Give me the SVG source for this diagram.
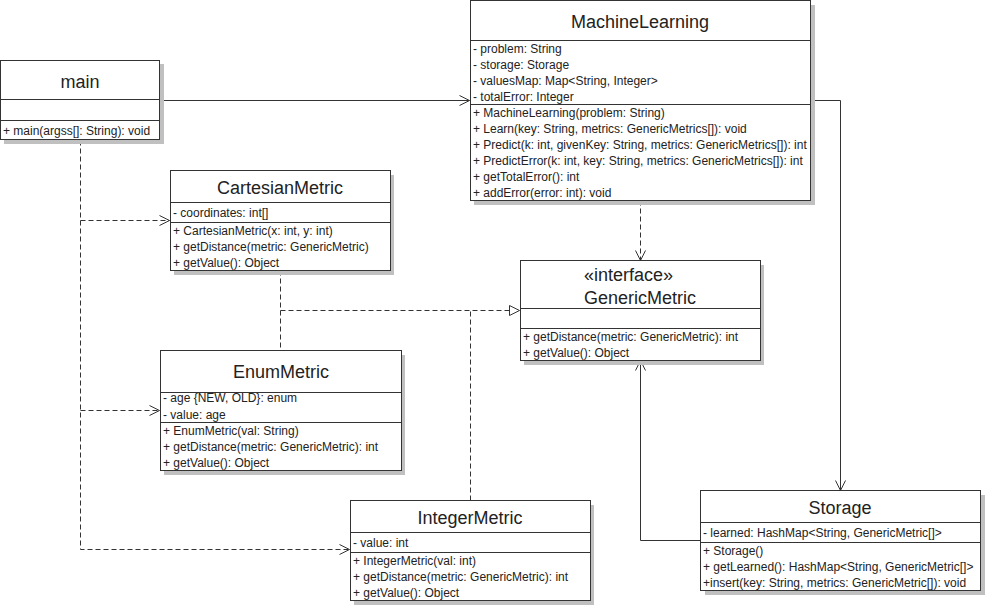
<svg xmlns="http://www.w3.org/2000/svg" width="985" height="605" viewBox="0 0 985 605">
<defs>
<style>
.shadow{fill:#c0c0c0;stroke:none}
.box{fill:#fff;stroke:#333;stroke-width:1}
.sep{stroke:#333;stroke-width:1}
.title{font-family:"Liberation Sans",Arial,sans-serif;font-size:18px;fill:#222;text-anchor:middle}
.titleL{font-family:"Liberation Sans",Arial,sans-serif;font-size:18px;fill:#222}
.m{font-family:"Liberation Sans",Arial,sans-serif;font-size:12px;fill:#222}
.solid{fill:none;stroke:#333;stroke-width:1}
.dash{fill:none;stroke:#333;stroke-width:1;stroke-dasharray:5,3}
</style>
<marker id="open" viewBox="0 0 12 12" refX="11" refY="6" markerWidth="12" markerHeight="12" markerUnits="userSpaceOnUse" orient="auto">
<path d="M1,1 L11,6 L1,11" fill="none" stroke="#333" stroke-width="1"/>
</marker>
<marker id="tri" viewBox="0 0 12 12" refX="11" refY="6" markerWidth="12" markerHeight="12" markerUnits="userSpaceOnUse" orient="auto">
<path d="M1,1 L11,6 L1,11 Z" fill="#fff" stroke="#333" stroke-width="1"/>
</marker>
</defs>
<rect width="985" height="605" fill="#fff"/>

<g id="connectors">
<polyline class="solid" points="159.5,100.5 469.5,100.5" marker-end="url(#open)"/>
<polyline class="solid" points="810.5,100.5 840.5,100.5 840.5,490.5" marker-end="url(#open)"/>
<polyline class="solid" points="700.5,540.5 640.5,540.5 640.5,360.5" marker-end="url(#open)"/>
<polyline class="dash" points="640.5,200.5 640.5,260.5" marker-end="url(#open)"/>
<polyline class="dash" points="80.5,140.5 80.5,549.5 349.5,549.5" marker-end="url(#open)"/>
<polyline class="dash" points="80.5,220.5 169.5,220.5" marker-end="url(#open)"/>
<polyline class="dash" points="80.5,410.5 159.5,410.5" marker-end="url(#open)"/>
<polyline class="dash" points="280.5,270.5 280.5,350.5"/>
<polyline class="dash" points="470.5,500.5 470.5,310.5"/>
<polyline class="dash" points="280.5,310.5 519.5,310.5" marker-end="url(#tri)"/>
</g>

<g id="main">
<rect class="shadow" x="4" y="64" width="160" height="80"/>
<rect class="box" x="0.5" y="60.5" width="159" height="79"/>
<line class="sep" x1="0.5" y1="99.5" x2="159.5" y2="99.5"/>
<line class="sep" x1="0.5" y1="120.5" x2="159.5" y2="120.5"/>
<text class="title" x="80" y="88">main</text>
<text class="m" x="3" y="135">+ main(argss[]: String): void</text>
</g>

<g id="MachineLearning">
<rect class="shadow" x="474" y="5" width="341" height="200"/>
<rect class="box" x="470.5" y="0.5" width="340" height="200"/>
<line class="sep" x1="470.5" y1="40.5" x2="810.5" y2="40.5"/>
<line class="sep" x1="470.5" y1="104.5" x2="810.5" y2="104.5"/>
<text class="title" x="640" y="28">MachineLearning</text>
<text class="m" x="473" y="53">- problem: String</text>
<text class="m" x="473" y="69">- storage: Storage</text>
<text class="m" x="473" y="85">- valuesMap: Map&lt;String, Integer&gt;</text>
<text class="m" x="473" y="101">- totalError: Integer</text>
<text class="m" x="473" y="117">+ MachineLearning(problem: String)</text>
<text class="m" x="473" y="133">+ Learn(key: String, metrics: GenericMetrics[]): void</text>
<text class="m" x="473" y="149">+ Predict(k: int, givenKey: String, metrics: GenericMetrics[]): int</text>
<text class="m" x="473" y="165">+ PredictError(k: int, key: String, metrics: GenericMetrics[]): int</text>
<text class="m" x="473" y="181">+ getTotalError(): int</text>
<text class="m" x="473" y="197">+ addError(error: int): void</text>
</g>

<g id="CartesianMetric">
<rect class="shadow" x="174" y="175" width="220" height="100"/>
<rect class="box" x="170.5" y="170.5" width="220" height="100"/>
<line class="sep" x1="170.5" y1="202.5" x2="390.5" y2="202.5"/>
<line class="sep" x1="170.5" y1="222.5" x2="390.5" y2="222.5"/>
<text class="title" x="280" y="194">CartesianMetric</text>
<text class="m" x="173" y="217">- coordinates: int[]</text>
<text class="m" x="173" y="235">+ CartesianMetric(x: int, y: int)</text>
<text class="m" x="173" y="251">+ getDistance(metric: GenericMetric)</text>
<text class="m" x="173" y="267">+ getValue(): Object</text>
</g>

<g id="EnumMetric">
<rect class="shadow" x="164" y="355" width="241" height="120"/>
<rect class="box" x="160.5" y="350.5" width="241" height="120"/>
<line class="sep" x1="160.5" y1="392.5" x2="401.5" y2="392.5"/>
<line class="sep" x1="160.5" y1="422.5" x2="401.5" y2="422.5"/>
<text class="title" x="281" y="378">EnumMetric</text>
<text class="m" x="163" y="402">- age {NEW, OLD}: enum</text>
<text class="m" x="163" y="419">- value: age</text>
<text class="m" x="163" y="435">+ EnumMetric(val: String)</text>
<text class="m" x="163" y="451">+ getDistance(metric: GenericMetric): int</text>
<text class="m" x="163" y="467">+ getValue(): Object</text>
</g>

<g id="IntegerMetric">
<rect class="shadow" x="354" y="505" width="240" height="100"/>
<rect class="box" x="350.5" y="500.5" width="240" height="100"/>
<line class="sep" x1="350.5" y1="532.5" x2="590.5" y2="532.5"/>
<line class="sep" x1="350.5" y1="552.5" x2="590.5" y2="552.5"/>
<text class="title" x="470" y="524">IntegerMetric</text>
<text class="m" x="353" y="547">- value: int</text>
<text class="m" x="353" y="565">+ IntegerMetric(val: int)</text>
<text class="m" x="353" y="581">+ getDistance(metric: GenericMetric): int</text>
<text class="m" x="353" y="597">+ getValue(): Object</text>
</g>

<g id="GenericMetric">
<rect class="shadow" x="524" y="265" width="240" height="100"/>
<rect class="box" x="520.5" y="260.5" width="240" height="100"/>
<line class="sep" x1="520.5" y1="308.5" x2="760.5" y2="308.5"/>
<line class="sep" x1="520.5" y1="328.5" x2="760.5" y2="328.5"/>
<text class="titleL" x="584" y="281">«interface»</text>
<text class="titleL" x="584" y="304">GenericMetric</text>
<text class="m" x="523" y="341">+ getDistance(metric: GenericMetric): int</text>
<text class="m" x="523" y="357">+ getValue(): Object</text>
</g>

<g id="Storage">
<rect class="shadow" x="705" y="495" width="280" height="100"/>
<rect class="box" x="700.5" y="490.5" width="280" height="100"/>
<line class="sep" x1="700.5" y1="522.5" x2="980.5" y2="522.5"/>
<line class="sep" x1="700.5" y1="542.5" x2="980.5" y2="542.5"/>
<text class="title" x="840" y="514">Storage</text>
<text class="m" x="703" y="537">- learned: HashMap&lt;String, GenericMetric[]&gt;</text>
<text class="m" x="703" y="555">+ Storage()</text>
<text class="m" x="703" y="571">+ getLearned(): HashMap&lt;String, GenericMetric[]&gt;</text>
<text class="m" x="703" y="587">+insert(key: String, metrics: GenericMetric[]): void</text>
</g>
</svg>
